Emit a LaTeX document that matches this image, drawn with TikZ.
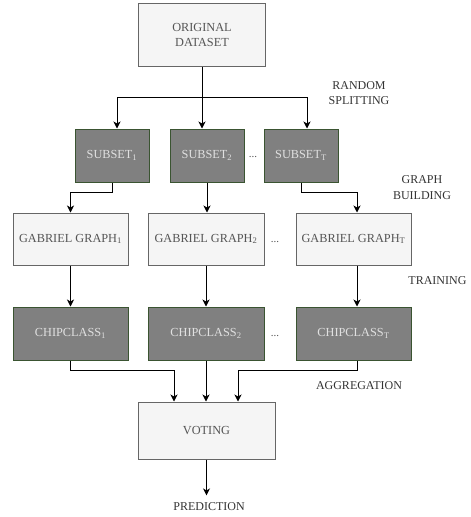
\documentclass[tikz,border=0pt]{standalone}
\usepackage{fontspec}
\setmainfont{Liberation Serif}
\usetikzlibrary{arrows.meta, positioning}
\definecolor{boxfill}{HTML}{F5F5F5}
\definecolor{boxline}{HTML}{666666}
\definecolor{darkfill}{HTML}{808080}
\definecolor{darkline}{HTML}{3A5431}
\definecolor{boxtext}{HTML}{555555}
\definecolor{lbltext}{HTML}{333333}

\begin{document}
\begin{tikzpicture}[
    x=1pt, y=-1pt,
    light/.style={draw=boxline, fill=boxfill, line width=1pt, align=center,
                  text=boxtext, font=\fontsize{12.3}{15}\selectfont,
                  inner sep=0pt},
    dark/.style={draw=darkline, fill=darkfill, line width=1pt, align=center,
                 text=black!12, font=\fontsize{12.3}{15}\selectfont,
                 inner sep=0pt, minimum width=74pt, minimum height=53pt},
    arrow/.style={-{Stealth[length=7pt, width=7pt, inset=2pt]}, line width=0.9pt},
    label/.style={align=center, text=lbltext, font=\fontsize{12}{15.5}\selectfont},
    dots/.style={text=boxtext, font=\fontsize{11}{14}\selectfont}
]
\useasboundingbox (0,0) rectangle (471,517);

% Dataset
\node[light, minimum width=127pt, minimum height=63pt] (orig) at (202,34.5)
  {ORIGINAL\\DATASET};
\coordinate (split) at (0,97);

% Subsets
\node[dark] (sub1) at (112,155.5) {SUBSET\textsubscript{1}};
\node[dark] (sub2) at (207,155.5) {SUBSET\textsubscript{2}};
\node[dark] (sub3) at (301,155.5) {SUBSET\textsubscript{T}};
\node[dots] at (253,157) {...};
\coordinate (build) at (0,192);

% Gabriel graphs
\node[light, minimum width=115pt, minimum height=52pt] (gg1) at (70.5,239)
  {GABRIEL GRAPH\textsubscript{1}};
\node[light, minimum width=116pt, minimum height=52pt] (gg2) at (206,239)
  {GABRIEL GRAPH\textsubscript{2}};
\node[light, minimum width=115pt, minimum height=52pt] (gg3) at (353.5,239)
  {GABRIEL GRAPH\textsubscript{T}};
\node[dots] at (275,242) {...};

% Classifiers
\node[dark, minimum width=115pt] (cc1) at (70.5,333.5) {CHIPCLASS\textsubscript{1}};
\node[dark, minimum width=116pt] (cc2) at (206,333.5) {CHIPCLASS\textsubscript{2}};
\node[dark, minimum width=115pt] (cc3) at (353.5,333.5) {CHIPCLASS\textsubscript{T}};
\node[dots] at (275,336) {...};
\coordinate (aggr) at (0,370);

% Voting
\node[light, minimum width=137pt, minimum height=57pt] (vote) at (206.5,430.5)
  {VOTING};
\node[label] (pred) at (209,507) {PREDICTION};

% Arrows between stages
\draw[arrow] (orig.south) -- (orig.south |- sub2.north);
\draw[arrow] (orig.south |- split) -| ([xshift=5pt]sub1.north);
\draw[arrow] (orig.south |- split) -| ([xshift=6pt]sub3.north);

\draw[arrow] (sub1.south) -- (sub1.south |- build) -| (gg1.north);
\draw[arrow] (sub2.south) -- (sub2.south |- gg2.north);
\draw[arrow] (sub3.south) -- (sub3.south |- build) -| ([xshift=3.5pt]gg3.north);

\draw[arrow] (gg1) -- (cc1);
\draw[arrow] (gg2) -- (cc2);
\draw[arrow] ([xshift=3.5pt]gg3.south) -- ([xshift=3.5pt]cc3.north);

\draw[arrow] (cc1.south) -- (cc1.south |- aggr) -| ([xshift=-32.5pt]vote.north);
\draw[arrow] (cc2.south) -- (cc2.south |- vote.north);
\draw[arrow] ([xshift=3.5pt]cc3.south) -- ([xshift=3.5pt]cc3.south |- aggr)
  -| ([xshift=31.5pt]vote.north);

\draw[arrow] (vote.south) -- ([yshift=4pt]pred.north -| vote.south);

% Stage labels
\node[label] at (359,93) {RANDOM\\SPLITTING};
\node[label] at (422,187.5) {GRAPH\\BUILDING};
\node[label, anchor=east] at (470,281) {TRAINING};
\node[label] at (359,386) {AGGREGATION};
\end{tikzpicture}
\end{document}
